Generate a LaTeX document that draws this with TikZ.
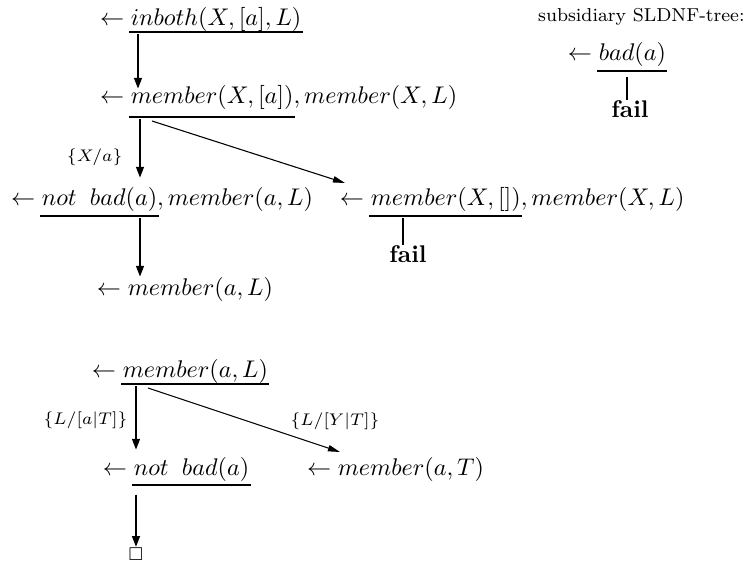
\documentclass[tikz,border=0pt]{standalone}
\usepackage{amssymb}
\usetikzlibrary{arrows.meta}
\begin{document}
\begin{tikzpicture}[x=0.415pt, y=-0.415pt,
  goal/.style={inner sep=0pt, outer sep=0pt, anchor=base west},
  uline/.style={line width=0.9pt, shorten <=-0.6pt, shorten >=-0.6pt},
  bigarrow/.style={line width=1.05pt, -{Triangle[length=4.6pt,width=3.1pt]}},
  thinarrow/.style={line width=0.45pt, -{Triangle[length=5pt,width=2.6pt]}},
  failline/.style={line width=1pt},
  subst/.style={inner sep=0pt, font=\scriptsize}]
\useasboundingbox (0,0) rectangle (748,563);

% subsidiary tree
\node[anchor=base east, inner sep=0pt, font=\footnotesize, scale=0.97] (title) at (745,21) {subsidiary SLDNF-tree:};
\node[goal] (sba) at (568,60) {$\leftarrow$};
\node[goal] (sbu) at ([xshift=2.78pt]sba.base east) {$bad(a)$};
\coordinate (usb) at (sbu.west |- 0,71);
\draw[uline] (usb) -- (usb -| sbu.east);
\node[anchor=base, inner sep=0pt] (fail1) at (630,117) {\textbf{fail}};
\draw[failline, shorten <=2.5pt] (usb -| 627,0) -- (fail1.north -| 627,0);

% goal 1
\node[goal] (g1a) at (100,25) {$\leftarrow$};
\node[goal] (g1u) at ([xshift=2.78pt]g1a.base east) {$inboth(X,[a],L)$};
\coordinate (u1) at (g1u.west |- 0,32);
\draw[uline] (u1) -- (u1 -| g1u.east);

% goal 2
\node[goal] (g2a) at (100,103) {$\leftarrow$};
\node[goal] (g2u) at ([xshift=2.78pt]g2a.base east) {$member(X,[a])$};
\node[goal] (g2r) at (g2u.base east) {$,member(X,L)$};
\coordinate (u2) at (g2u.west |- 0,117);
\draw[uline] (u2) -- (u2 -| g2u.east);

% goal 3
\node[goal] (g3a) at (11,205) {$\leftarrow$};
\node[goal] (g3u) at ([xshift=2.78pt]g3a.base east) {$not\;\;bad(a)$};
\node[goal] (g3r) at (g3u.base east) {$,member(a,L)$};
\coordinate (u3) at (g3u.west |- 0,216);
\draw[uline] (u3) -- (u3 -| g3u.east);

% goal 4
\node[goal] (g4) at (97,295) {$\leftarrow member(a,L)$};

% goal 5
\node[goal] (g5a) at (340,205) {$\leftarrow$};
\node[goal] (g5u) at ([xshift=2.78pt]g5a.base east) {$member(X,[])$};
\node[goal] (g5r) at (g5u.base east) {$,member(X,L)$};
\coordinate (u5) at (g5u.west |- 0,216);
\draw[uline] (u5) -- (u5 -| g5u.east);
\node[anchor=base, inner sep=0pt] (fail2) at (408,262) {\textbf{fail}};
\draw[failline, shorten <=1pt] (u5 -| 403,0) -- (fail2.north -| 403,0);

% goal 6
\node[goal] (g6a) at (92,377) {$\leftarrow$};
\node[goal] (g6u) at ([xshift=2.78pt]g6a.base east) {$member(a,L)$};
\coordinate (u6) at (g6u.west |- 0,384);
\draw[uline] (u6) -- (u6 -| g6u.east);

% goal 7
\node[goal] (g7a) at (103,475) {$\leftarrow$};
\node[goal] (g7u) at ([xshift=2.78pt]g7a.base east) {$not\;\;bad(a)$};
\coordinate (u7) at (g7u.west |- 0,485);
\draw[uline] (u7) -- (u7 -| g7u.east);

% goal 8
\node[goal] (g8) at (307,475) {$\leftarrow member(a,T)$};

% empty clause
\node[inner sep=0pt, font=\scriptsize] (empty) at (136,554) {$\square$};

% connectors
\draw[bigarrow, shorten <=1pt] (u1 -| 138,0) -- (138,89);
\draw[bigarrow, shorten <=1pt] (u2 -| 140,0) -- (140,178);
\node[subst, anchor=east] (l1) at (123,157) {$\{X/a\}$};
\draw[thinarrow] (u2 -| 152,0) ++(0,4) -- (345,183);
\draw[bigarrow, shorten <=1pt] (u3 -| 140,0) -- (140,277);

\draw[bigarrow, shorten <=1pt] (u6 -| 136,0) -- (136,450);
\node[subst, anchor=east] (l2) at (128,420) {$\{L/[a|T]\}$};
\draw[thinarrow] (u6 -| 148,0) ++(0,4) -- (340,452);
\node[subst] (l3) at (335,421) {$\{L/[Y|T]\}$};
\draw[bigarrow, shorten <=4pt] (u7 -| 136,0) -- (empty.north);
\end{tikzpicture}
\end{document}
